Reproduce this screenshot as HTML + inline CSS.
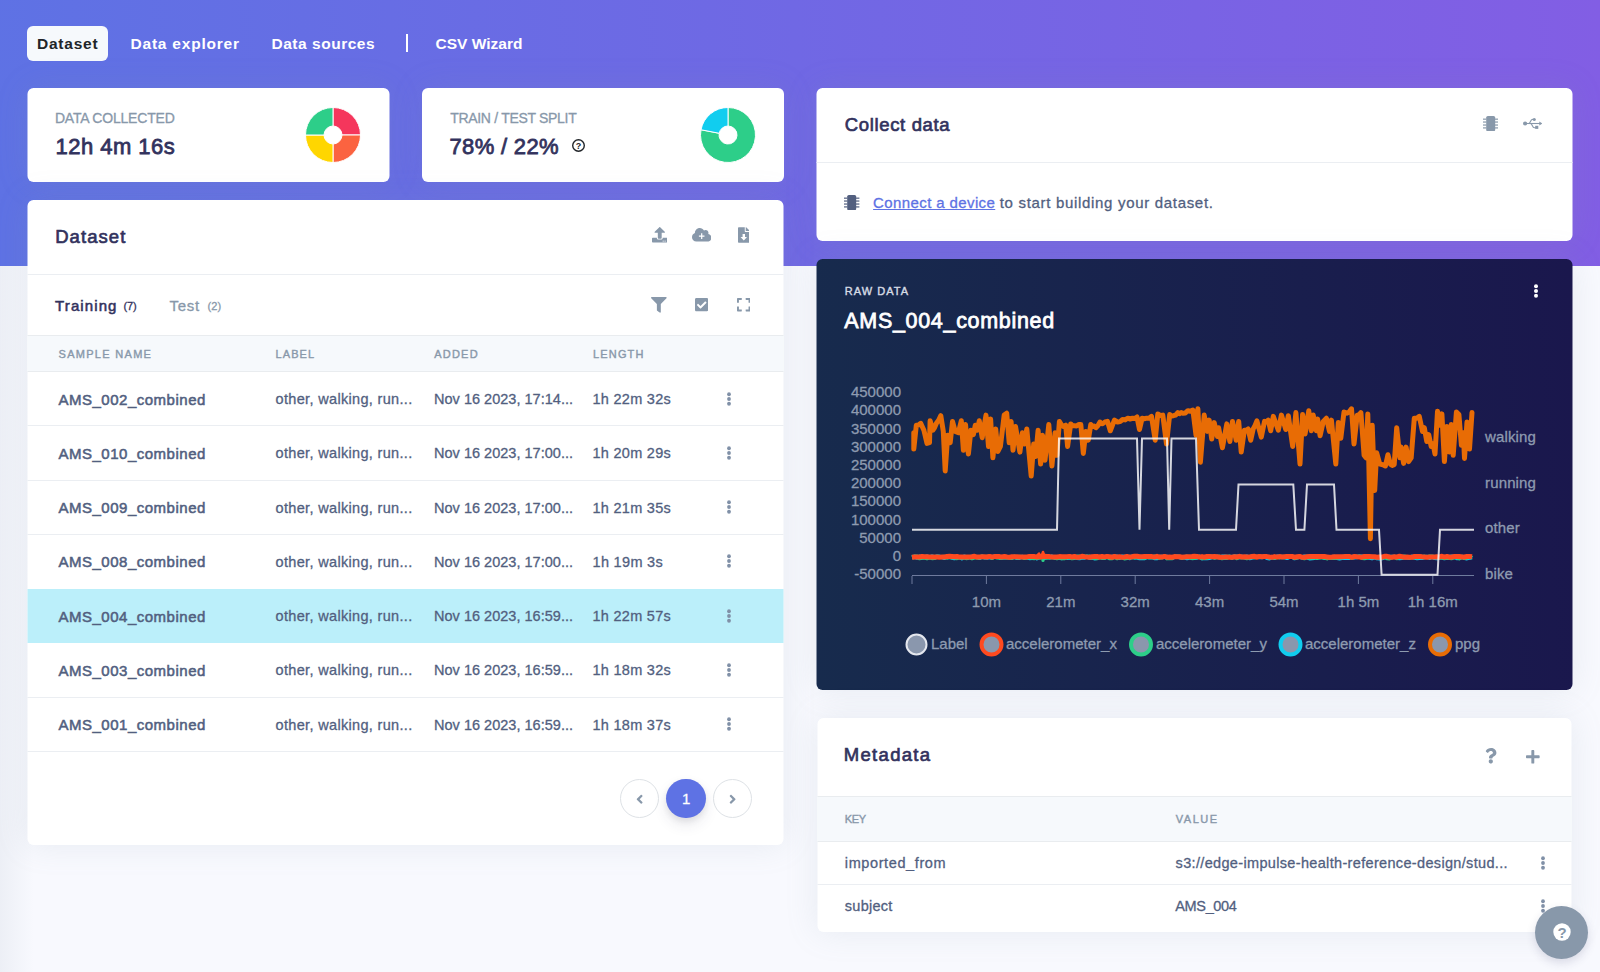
<!DOCTYPE html>
<html lang="en"><head><meta charset="utf-8"><title>Data acquisition</title><style>
html,body{margin:0;padding:0}
body{width:1600px;height:972px;overflow:hidden;background:#f8f9fe;font-family:"Liberation Sans", sans-serif;position:relative}
.a{position:absolute;display:block}
.t{position:absolute;white-space:nowrap}
.card{position:absolute;background:#fff;border-radius:6px;box-shadow:0 0 32px 0 rgba(136,152,170,.15)}
.hl{position:absolute;height:1px;background:#ebeef2}
.hx{transform:translateX(.5px)}
.ax{font-family:"Liberation Sans", sans-serif;font-size:15px;fill:#8e9bb0;stroke:#8e9bb0;stroke-width:.3px}
.pg{position:absolute;width:37px;height:37px;border-radius:50%;border:1px solid #dee2e6;background:#fff}
</style></head><body>
<div class="a" style="left:0;top:0;width:1600px;height:266px;background:linear-gradient(87deg,#5e72e4 0,#825ee4 100%)"></div>
<div class="a" style="left:0;top:266px;width:34px;height:706px;background:linear-gradient(90deg,rgba(136,152,170,.10),rgba(136,152,170,0))"></div>
<div class="a" style="left:27px;top:26px;width:81px;height:34.500px;border-radius:6px;background:#f6f9fc"></div>
<div class="a" style="left:406px;top:34px;width:1.500px;height:18px;background:#fff"></div>
<div class="card hx" style="left:27px;top:88px;width:361.500px;height:94px"></div>
<div class="card" style="left:422px;top:88px;width:361.500px;height:94px"></div>
<svg class="a" style="left:304px;top:106px" width="58" height="58" viewBox="-29 -29 58 58"><path d="M0.00 -27.50A27.5 27.5 0 0 1 27.50 0.00L9.00 0.00A9 9 0 0 0 0.00 -9.00Z" fill="#f5365c" stroke="#fff" stroke-width="1"/><path d="M27.50 0.00A27.5 27.5 0 0 1 0.00 27.50L0.00 9.00A9 9 0 0 0 9.00 0.00Z" fill="#fb6340" stroke="#fff" stroke-width="1"/><path d="M0.00 27.50A27.5 27.5 0 0 1 -27.50 0.00L-9.00 0.00A9 9 0 0 0 0.00 9.00Z" fill="#ffd600" stroke="#fff" stroke-width="1"/><path d="M-27.50 0.00A27.5 27.5 0 0 1 -0.00 -27.50L-0.00 -9.00A9 9 0 0 0 -9.00 0.00Z" fill="#2dce89" stroke="#fff" stroke-width="1"/></svg>
<svg class="a" style="left:698.5px;top:106px" width="58" height="58" viewBox="-29 -29 58 58"><path d="M0.00 -27.50A27.5 27.5 0 1 1 -26.99 -5.25L-8.83 -1.72A9 9 0 1 0 0.00 -9.00Z" fill="#2dce89" stroke="#fff" stroke-width="1"/><path d="M-26.99 -5.25A27.5 27.5 0 0 1 -0.00 -27.50L-0.00 -9.00A9 9 0 0 0 -8.83 -1.72Z" fill="#11cdef" stroke="#fff" stroke-width="1"/></svg>
<svg class="a" style="left:570.5px;top:137.7px" width="15.0" height="15.0" viewBox="-7.5 -7.5 15.0 15.0"><circle r="5.8" fill="none" stroke="#212529" stroke-width="1.400"/><text x="0" y="3.200" text-anchor="middle" font-family='"Liberation Sans", sans-serif' font-weight="700" font-size="9" fill="#212529">?</text></svg>
<div class="card hx" style="left:27px;top:200px;width:756px;height:645px"></div>
<div class="hl hx" style="left:27px;top:274px;width:756px"></div>
<div class="a hx" style="left:27px;top:335px;width:756px;height:37px;background:#f6f9fc;border-top:1px solid #e9ecef;border-bottom:1px solid #e9ecef;box-sizing:border-box"></div>
<div class="a hx" style="left:27px;top:589px;width:756px;height:54px;background:#bbeffa"></div>
<div class="hl hx" style="left:27px;top:425.25px;width:756px"></div>
<div class="hl hx" style="left:27px;top:479.5px;width:756px"></div>
<div class="hl hx" style="left:27px;top:533.75px;width:756px"></div>
<div class="hl hx" style="left:27px;top:696.5px;width:756px"></div>
<div class="hl hx" style="left:27px;top:750.75px;width:756px"></div>
<svg class="a" style="left:651.55px;top:227.35px" width="15.5" height="15.5" viewBox="0 0 512 512"><path fill="#8898aa" d="M296 384h-80c-13.3 0-24-10.700-24-24V192h-87.700c-17.800 0-26.700-21.500-14.100-34.100L242.300 5.700c7.500-7.500 19.800-7.500 27.300 0l152.200 152.200c12.600 12.600 3.700 34.100-14.100 34.100H320v168c0 13.300-10.700 24-24 24zm216-8v112c0 13.300-10.700 24-24 24H24c-13.300 0-24-10.700-24-24V376c0-13.300 10.700-24 24-24h136v8c0 30.900 25.100 56 56 56h80c30.900 0 56-25.100 56-56v-8h136c13.300 0 24 10.700 24 24zm-124 88c0-11-9-20-20-20s-20 9-20 20 9 20 20 20 20-9 20-20zm64 0c0-11-9-20-20-20s-20 9-20 20 9 20 20 20 20-9 20-20z"/></svg>
<svg class="a" style="left:691.6999999999999px;top:228.29999999999998px" width="19.4" height="13.6" viewBox="0 0 640 448"><path fill="#8898aa" d="M537.6 194.600c4.100-10.700 6.400-22.400 6.400-34.600 0-53-43-96-96-96-19.700 0-38.100 6-53.300 16.200C367 32.200 315.300 0 256 0 167.600 0 96 71.600 96 160c0 2.700.1 5.400.2 8.100C40.200 187.800 0 241.200 0 304c0 79.500 64.500 144 144 144h368c70.700 0 128-57.300 128-128 0-61.900-44-113.600-102.400-125.400z"/><path fill="#fff" d="M300 176h40v72h72v40h-72v72h-40v-72h-72v-40h72z"/></svg>
<svg class="a" style="left:737.6px;top:227.0px" width="11.6" height="15.9" viewBox="0 0 384 512"><path fill="#8898aa" d="M224 136V0H24C10.700 0 0 10.700 0 24v464c0 13.300 10.700 24 24 24h336c13.300 0 24-10.700 24-24V160H248c-13.200 0-24-10.800-24-24zm160-14.100v6.100H256V0h6.100c6.400 0 12.500 2.500 17 7l97.900 98c4.500 4.500 7 10.600 7 16.900z"/><path fill="#fff" d="M152 226h80v100h68l-108 116-108-116h68z"/></svg>
<svg class="a" style="left:651.4499999999999px;top:297.04999999999995px" width="15.7" height="15.7" viewBox="0 0 512 512"><path fill="#8898aa" d="M487.976 0H24.028C2.710 0-8.047 25.866 7.058 40.971L192 225.941V432c0 7.831 3.821 15.170 10.237 19.662l80 55.980C298.020 518.690 320 507.493 320 487.980V225.941l184.947-184.970C520.021 25.896 509.338 0 487.976 0z"/></svg>
<svg class="a" style="left:694.6049999999999px;top:297.25px" width="13.39" height="15.3" viewBox="0 0 448 512"><path fill="#8898aa" d="M400 480H48c-26.510 0-48-21.490-48-48V80c0-26.510 21.490-48 48-48h352c26.510 0 48 21.490 48 48v352c0 26.510-21.490 48-48 48zm-204.686-98.059l184-184c6.248-6.248 6.248-16.379 0-22.627l-22.627-22.627c-6.248-6.248-16.379-6.249-22.628 0L184 302.745l-70.059-70.059c-6.248-6.248-16.379-6.248-22.628 0l-22.627 22.627c-6.248 6.248-6.248 16.379 0 22.627l104 104c6.249 6.250 16.379 6.250 22.628.001z"/></svg>
<svg class="a" style="left:736.5649999999999px;top:297.2px" width="13.47" height="15.4" viewBox="0 0 448 512"><path fill="#8898aa" d="M0 180V56c0-13.300 10.700-24 24-24h124c6.600 0 12 5.400 12 12v40c0 6.600-5.400 12-12 12H64v84c0 6.600-5.400 12-12 12H12c-6.600 0-12-5.400-12-12zM288 44v40c0 6.600 5.400 12 12 12h84v84c0 6.600 5.400 12 12 12h40c6.600 0 12-5.400 12-12V56c0-13.300-10.700-24-24-24H300c-6.600 0-12 5.400-12 12zm148 276h-40c-6.600 0-12 5.400-12 12v84h-84c-6.600 0-12 5.400-12 12v40c0 6.600 5.400 12 12 12h124c13.300 0 24-10.700 24-24V332c0-6.600-5.400-12-12-12zM160 468v-40c0-6.600-5.400-12-12-12H64v-84c0-6.600-5.400-12-12-12H12c-6.600 0-12 5.400-12 12v124c0 13.300 10.700 24 24 24h124c6.600 0 12-5.400 12-12z"/></svg>
<svg class="a" style="left:726.4px;top:389.7px" width="6" height="18" viewBox="-3 -9 6 18"><circle cx="0" cy="-4.75" r="1.9" fill="#8090a7"/><circle cx="0" cy="0" r="1.9" fill="#8090a7"/><circle cx="0" cy="4.75" r="1.9" fill="#8090a7"/></svg>
<svg class="a" style="left:726.4px;top:443.95px" width="6" height="18" viewBox="-3 -9 6 18"><circle cx="0" cy="-4.75" r="1.9" fill="#8090a7"/><circle cx="0" cy="0" r="1.9" fill="#8090a7"/><circle cx="0" cy="4.75" r="1.9" fill="#8090a7"/></svg>
<svg class="a" style="left:726.4px;top:498.2px" width="6" height="18" viewBox="-3 -9 6 18"><circle cx="0" cy="-4.75" r="1.9" fill="#8090a7"/><circle cx="0" cy="0" r="1.9" fill="#8090a7"/><circle cx="0" cy="4.75" r="1.9" fill="#8090a7"/></svg>
<svg class="a" style="left:726.4px;top:552.45px" width="6" height="18" viewBox="-3 -9 6 18"><circle cx="0" cy="-4.75" r="1.9" fill="#8090a7"/><circle cx="0" cy="0" r="1.9" fill="#8090a7"/><circle cx="0" cy="4.75" r="1.9" fill="#8090a7"/></svg>
<svg class="a" style="left:726.4px;top:606.7px" width="6" height="18" viewBox="-3 -9 6 18"><circle cx="0" cy="-4.75" r="1.9" fill="#8090a7"/><circle cx="0" cy="0" r="1.9" fill="#8090a7"/><circle cx="0" cy="4.75" r="1.9" fill="#8090a7"/></svg>
<svg class="a" style="left:726.4px;top:660.95px" width="6" height="18" viewBox="-3 -9 6 18"><circle cx="0" cy="-4.75" r="1.9" fill="#8090a7"/><circle cx="0" cy="0" r="1.9" fill="#8090a7"/><circle cx="0" cy="4.75" r="1.9" fill="#8090a7"/></svg>
<svg class="a" style="left:726.4px;top:715.2px" width="6" height="18" viewBox="-3 -9 6 18"><circle cx="0" cy="-4.75" r="1.9" fill="#8090a7"/><circle cx="0" cy="0" r="1.9" fill="#8090a7"/><circle cx="0" cy="4.75" r="1.9" fill="#8090a7"/></svg>
<div class="pg" style="left:620px;top:779px"></div>
<div class="pg" style="left:713px;top:779px"></div>
<div class="a" style="left:666px;top:778.500px;width:39.500px;height:39.500px;border-radius:50%;background:#5e72e4;box-shadow:0 7px 14px rgba(50,50,93,.1),0 3px 6px rgba(0,0,0,.08)"></div>
<svg class="a" style="left:635.775px;top:791.65px" width="7.25" height="14.5" viewBox="0 0 256 512"><path fill="#8898aa" d="M31.700 239l136-136c9.400-9.400 24.600-9.400 33.900 0l22.600 22.600c9.400 9.400 9.400 24.600 0 33.900L127.900 256l96.400 96.400c9.400 9.400 9.400 24.600 0 33.900L201.700 409c-9.400 9.400-24.600 9.400-33.900 0l-136-136c-9.500-9.400-9.500-24.600-.1-34z"/></svg>
<svg class="a" style="left:728.875px;top:791.65px" width="7.25" height="14.5" viewBox="0 0 256 512"><path fill="#8898aa" d="M224.300 273l-136 136c-9.400 9.400-24.600 9.400-33.900 0l-22.600-22.600c-9.400-9.400-9.400-24.600 0-33.900l96.400-96.400-96.400-96.400c-9.400-9.400-9.400-24.600 0-33.900L54.300 103c9.400-9.400 24.600-9.400 33.900 0l136 136c9.500 9.400 9.500 24.600.1 34z"/></svg>
<div class="card hx" style="left:816px;top:88px;width:756px;height:152.500px"></div>
<div class="hl hx" style="left:816px;top:162px;width:756px"></div>
<svg class="a" style="left:1482.8px;top:115.75px" width="15.4" height="15.3" viewBox="0 0 15.4 15.3"><rect x="3.2" y="0" width="9" height="15.3" rx="1.6" fill="#8898aa"/><rect x="0" y="2.45" width="3.4" height="1.5" fill="#8898aa" opacity=".8"/><rect x="12" y="2.45" width="3.4" height="1.5" fill="#8898aa" opacity=".8"/><rect x="0" y="5.30" width="3.4" height="1.5" fill="#8898aa" opacity=".8"/><rect x="12" y="5.30" width="3.4" height="1.5" fill="#8898aa" opacity=".8"/><rect x="0" y="8.30" width="3.4" height="1.5" fill="#8898aa" opacity=".8"/><rect x="12" y="8.30" width="3.4" height="1.5" fill="#8898aa" opacity=".8"/><rect x="0" y="11.15" width="3.4" height="1.5" fill="#8898aa" opacity=".8"/><rect x="12" y="11.15" width="3.4" height="1.5" fill="#8898aa" opacity=".8"/></svg>
<svg class="a" style="left:1522.75px;top:117.9px" width="19.5" height="11" viewBox="0 0 19.5 11"><g fill="none" stroke="#8898aa" stroke-width="1.1"><path d="M2 5.5H17"/><path d="M5.8 5.5C7.5 5.500 7.200 1.400 9.500 1.400H11"/><path d="M7.5 5.500C9.500 5.500 9 9.700 11.500 9.700H13"/></g><circle cx="2.100" cy="5.500" r="2.100" fill="#8898aa"/><circle cx="11.300" cy="1.500" r="1.500" fill="#8898aa"/><rect x="12.200" y="8.100" width="3.100" height="3.100" fill="#8898aa" transform="translate(0,-0.3)"/><path d="M16.300 3.600l3.200 1.900-3.200 1.900z" fill="#8898aa"/></svg>
<svg class="a" style="left:844.3px;top:194.65px" width="15.4" height="15.3" viewBox="0 0 15.4 15.3"><rect x="3.2" y="0" width="9" height="15.3" rx="1.6" fill="#525f7f"/><rect x="0" y="2.45" width="3.4" height="1.5" fill="#525f7f" opacity=".8"/><rect x="12" y="2.45" width="3.4" height="1.5" fill="#525f7f" opacity=".8"/><rect x="0" y="5.30" width="3.4" height="1.5" fill="#525f7f" opacity=".8"/><rect x="12" y="5.30" width="3.4" height="1.5" fill="#525f7f" opacity=".8"/><rect x="0" y="8.30" width="3.4" height="1.5" fill="#525f7f" opacity=".8"/><rect x="12" y="8.30" width="3.4" height="1.5" fill="#525f7f" opacity=".8"/><rect x="0" y="11.15" width="3.4" height="1.5" fill="#525f7f" opacity=".8"/><rect x="12" y="11.15" width="3.4" height="1.5" fill="#525f7f" opacity=".8"/></svg>
<div class="card hx" style="left:816px;top:258.500px;width:756px;height:431.500px;background:linear-gradient(87deg,#172b4d 0,#1a174d 100%)"></div>
<svg class="a" style="left:1533px;top:281.65px" width="6" height="18" viewBox="-3 -9 6 18"><circle cx="0" cy="-4.65" r="2" fill="#fff"/><circle cx="0" cy="0" r="2" fill="#fff"/><circle cx="0" cy="4.65" r="2" fill="#fff"/></svg>
<svg class="a" style="left:816px;top:370px" width="757" height="300" viewBox="816 370 757 300"><text x="901" y="397.2" text-anchor="end" class="ax">450000</text><text x="901" y="415.4" text-anchor="end" class="ax">400000</text><text x="901" y="433.6" text-anchor="end" class="ax">350000</text><text x="901" y="451.8" text-anchor="end" class="ax">300000</text><text x="901" y="470.0" text-anchor="end" class="ax">250000</text><text x="901" y="488.2" text-anchor="end" class="ax">200000</text><text x="901" y="506.4" text-anchor="end" class="ax">150000</text><text x="901" y="524.6" text-anchor="end" class="ax">100000</text><text x="901" y="542.8" text-anchor="end" class="ax">50000</text><text x="901" y="561.0" text-anchor="end" class="ax">0</text><text x="901" y="579.2" text-anchor="end" class="ax">-50000</text><path d="M912 575.500H1474" stroke="#6f7b9e" stroke-width="1"/><path d="M912.0 576V584" stroke="#6f7b9e" stroke-width="1"/><path d="M986.4 576V584" stroke="#6f7b9e" stroke-width="1"/><path d="M1060.8 576V584" stroke="#6f7b9e" stroke-width="1"/><path d="M1135.2 576V584" stroke="#6f7b9e" stroke-width="1"/><path d="M1209.6 576V584" stroke="#6f7b9e" stroke-width="1"/><path d="M1284.0 576V584" stroke="#6f7b9e" stroke-width="1"/><path d="M1358.4 576V584" stroke="#6f7b9e" stroke-width="1"/><path d="M1432.8 576V584" stroke="#6f7b9e" stroke-width="1"/><text x="986.4" y="607" text-anchor="middle" class="ax">10m</text><text x="1060.8" y="607" text-anchor="middle" class="ax">21m</text><text x="1135.2" y="607" text-anchor="middle" class="ax">32m</text><text x="1209.6" y="607" text-anchor="middle" class="ax">43m</text><text x="1284.0" y="607" text-anchor="middle" class="ax">54m</text><text x="1358.4" y="607" text-anchor="middle" class="ax">1h 5m</text><text x="1432.8" y="607" text-anchor="middle" class="ax">1h 16m</text><text x="1485" y="442" class="ax" style="letter-spacing:.15px">walking</text><text x="1485" y="488" class="ax" style="letter-spacing:.15px">running</text><text x="1485" y="533" class="ax" style="letter-spacing:.15px">other</text><text x="1485" y="579" class="ax" style="letter-spacing:.15px">bike</text><polyline points="913.8,432.7 913.8,449.0 916.3,425.2 918.5,424.9 920.7,423.3 923.9,430.2 927.0,443.4 929.5,442.7 930.1,420.8 932.9,430.2 934.6,427.6 936.4,423.3 938.6,420.3 940.8,415.7 943.3,431.4 945.2,471.0 947.7,435.2 950.2,442.7 952.5,421.4 955.2,431.4 958.4,432.7 961.3,420.8 963.4,450.3 965.5,424.5 968.4,454.0 970.9,430.2 973.4,434.6 975.3,425.2 977.2,430.2 979.3,420.8 982.2,437.7 986.0,415.1 988.5,446.5 990.6,418.9 992.9,457.8 995.7,428.9 997.9,451.5 1000.4,446.5 1004.2,415.1 1006.7,413.2 1009.2,442.7 1011.1,421.4 1013.0,450.3 1015.5,426.4 1019.9,452.1 1022.4,432.7 1024.3,444.0 1026.8,428.9 1031.2,476.0 1033.7,444.0 1035.6,456.5 1038.1,430.2 1040.6,464.1 1042.5,435.2 1045.0,460.3 1048.8,424.5 1051.9,466.0 1055.1,432.7 1056.9,455.3 1059.4,421.4 1061.3,424.8 1063.2,426.4 1065.7,425.2 1067.6,446.5 1070.7,423.9 1072.6,425.7 1074.5,425.8 1076.6,426.0 1078.7,424.5 1080.8,424.5 1083.3,453.4 1085.8,431.4 1088.3,440.2 1090.8,424.5 1092.5,426.6 1094.2,426.1 1095.9,427.7 1098.0,425.5 1100.0,422.0 1100.0,423.3 1102.5,423.7 1105.0,422.0 1107.5,421.4 1110.3,430.8 1114.4,420.1 1117.6,422.0 1120.1,421.6 1122.6,419.5 1125.1,419.9 1127.6,418.2 1130.1,419.0 1132.6,418.2 1134.8,418.5 1137.0,417.0 1139.5,429.5 1142.1,418.2 1144.3,418.8 1146.5,418.2 1149.0,418.2 1151.5,416.4 1155.2,440.2 1157.8,413.9 1160.3,415.5 1162.8,415.1 1166.5,444.0 1169.7,414.5 1171.6,415.9 1173.4,415.7 1175.6,415.1 1177.8,412.6 1179.5,413.7 1181.2,412.5 1182.9,413.2 1185.4,412.9 1187.9,410.7 1190.4,411.3 1192.9,410.1 1196.0,435.2 1197.9,408.8 1200.4,462.2 1204.2,415.1 1207.3,431.4 1209.2,420.1 1211.7,439.0 1214.2,422.6 1217.4,436.5 1218.6,427.7 1222.4,447.8 1226.8,423.9 1229.9,441.5 1232.5,421.4 1236.2,440.2 1238.7,421.4 1241.2,452.1 1244.4,430.2 1246.2,430.3 1248.1,428.9 1250.7,440.2 1253.2,428.9 1255.1,425.4 1256.9,420.8 1261.3,437.1 1264.5,421.4 1266.3,421.8 1268.2,420.1 1270.7,430.8 1273.3,416.4 1278.3,430.2 1281.4,415.1 1285.8,429.5 1288.3,415.7 1292.7,446.5 1295.9,412.6 1300.0,464.1 1302.6,414.5 1305.1,433.9 1308.8,410.7 1311.3,430.8 1313.2,415.1 1316.4,430.8 1317.6,418.9 1320.1,435.8 1323.3,421.4 1326.4,418.2 1329.5,431.4 1331.4,420.1 1335.8,464.1 1338.3,422.6 1340.8,438.3 1344.0,412.0 1347.1,413.2 1349.3,411.8 1351.5,408.8 1354.0,444.0 1357.2,415.1 1359.1,414.8 1360.9,412.6 1364.1,455.3 1366.0,457.8 1367.8,413.9 1370.4,538.8 1372.2,425.2 1374.7,490.4 1376.6,452.8 1379.8,464.1 1382.9,464.7 1385.4,466.0 1387.9,454.7 1390.4,464.1 1392.3,465.4 1394.2,464.7 1396.7,427.7 1399.9,457.8 1401.1,447.1 1403.6,463.4 1406.1,447.1 1408.6,461.6 1411.2,457.8 1414.3,418.2 1416.8,418.2 1419.3,416.4 1422.5,431.4 1424.3,427.7 1426.8,441.5 1428.7,434.6 1431.2,446.5 1433.1,444.0 1435.0,454.0 1437.5,411.3 1440.0,425.2 1441.9,413.9 1444.4,461.6 1446.9,426.4 1449.4,452.1 1451.3,424.5 1453.2,455.3 1456.4,412.0 1458.9,414.5 1461.4,445.2 1463.3,432.7 1464.5,458.4 1467.0,422.0 1469.5,449.0 1472.0,412.6" fill="none" stroke="#e86c05" stroke-width="5" stroke-linejoin="round" stroke-linecap="round"/><polyline points="912.0,557.1 914.5,556.8 917.0,557.7 919.5,556.6 922.0,557.5 924.5,557.2 927.0,556.6 929.5,557.4 932.0,556.6 934.5,557.3 937.0,556.6 939.5,556.7 942.0,557.3 944.5,558.0 947.0,556.7 949.5,556.9 952.0,557.6 954.5,558.2 957.0,557.5 959.5,557.2 962.0,558.3 964.5,556.6 967.0,558.0 969.5,557.0 972.0,556.8 974.5,556.7 977.0,557.1 979.5,558.0 982.0,556.8 984.5,557.5 987.0,557.7 989.5,557.2 992.0,557.5 994.5,556.6 997.0,556.6 999.5,556.9 1002.0,557.7 1004.5,557.3 1007.0,557.1 1009.5,557.6 1012.0,557.3 1014.5,557.0 1017.0,557.9 1019.5,557.8 1022.0,556.9 1024.5,557.5 1027.0,557.4 1029.5,558.1 1032.0,557.8 1034.5,557.0 1037.0,558.3 1039.5,556.7 1042.0,557.3 1044.5,557.9 1047.0,556.8 1049.5,557.4 1052.0,556.6 1054.5,557.7 1057.0,557.9 1059.5,557.5 1062.0,558.1 1064.5,557.1 1067.0,557.8 1069.5,557.6 1072.0,557.5 1074.5,557.3 1077.0,558.0 1079.5,558.2 1082.0,557.4 1084.5,557.7 1087.0,556.6 1089.5,557.8 1092.0,557.7 1094.5,558.3 1097.0,558.0 1099.5,557.0 1102.0,557.2 1104.5,557.7 1107.0,556.5 1109.5,557.3 1112.0,556.8 1114.5,556.7 1117.0,556.6 1119.5,557.9 1122.0,556.7 1124.5,556.9 1127.0,557.2 1129.5,558.1 1132.0,556.6 1134.5,557.3 1137.0,557.5 1139.5,558.1 1142.0,558.0 1144.5,558.1 1147.0,557.0 1149.5,557.2 1152.0,557.1 1154.5,558.1 1157.0,558.2 1159.5,556.8 1162.0,556.8 1164.5,556.9 1167.0,556.9 1169.5,557.4 1172.0,557.6 1174.5,557.0 1177.0,556.5 1179.5,557.3 1182.0,557.2 1184.5,557.5 1187.0,558.2 1189.5,557.7 1192.0,557.4 1194.5,557.6 1197.0,557.7 1199.5,556.6 1202.0,558.1 1204.5,557.9 1207.0,558.1 1209.5,557.9 1212.0,557.2 1214.5,557.2 1217.0,556.7 1219.5,557.6 1222.0,556.6 1224.5,556.6 1227.0,556.9 1229.5,556.8 1232.0,557.1 1234.5,556.6 1237.0,556.5 1239.5,556.8 1242.0,556.7 1244.5,557.2 1247.0,556.5 1249.5,558.1 1252.0,557.6 1254.5,556.8 1257.0,557.0 1259.5,557.1 1262.0,557.2 1264.5,556.7 1267.0,558.0 1269.5,558.3 1272.0,557.3 1274.5,557.4 1277.0,556.7 1279.5,556.7 1282.0,557.1 1284.5,557.0 1287.0,558.0 1289.5,556.8 1292.0,556.5 1294.5,558.2 1297.0,557.5 1299.5,556.8 1302.0,557.5 1304.5,556.5 1307.0,557.5 1309.5,558.3 1312.0,558.1 1314.5,557.8 1317.0,557.0 1319.5,557.2 1322.0,556.8 1324.5,557.9 1327.0,557.5 1329.5,557.9 1332.0,557.1 1334.5,556.9 1337.0,558.0 1339.5,558.3 1342.0,558.0 1344.5,558.0 1347.0,558.0 1349.5,557.8 1352.0,556.9 1354.5,557.4 1357.0,557.1 1359.5,556.6 1362.0,556.6 1364.5,557.0 1367.0,557.0 1369.5,557.7 1372.0,558.2 1374.5,557.3 1377.0,558.2 1379.5,558.3 1382.0,558.2 1384.5,557.2 1387.0,556.9 1389.5,556.9 1392.0,556.9 1394.5,556.9 1397.0,557.6 1399.5,558.1 1402.0,558.0 1404.5,557.4 1407.0,557.7 1409.5,557.9 1412.0,556.7 1414.5,557.7 1417.0,558.1 1419.5,557.9 1422.0,557.9 1424.5,557.4 1427.0,556.8 1429.5,557.9 1432.0,557.1 1434.5,557.9 1437.0,558.2 1439.5,557.2 1442.0,557.2 1444.5,558.2 1447.0,557.8 1449.5,556.8 1452.0,556.7 1454.5,556.8 1457.0,558.1 1459.5,558.0 1462.0,556.8 1464.5,558.0 1467.0,558.3 1469.5,557.7 1472.0,557.1" fill="none" stroke="#11cdef" stroke-width="4.200" stroke-linejoin="round"/><polyline points="912.0,557.5 914.5,556.7 917.0,556.5 919.5,558.2 922.0,557.7 924.5,557.4 927.0,558.2 929.5,557.3 932.0,558.1 934.5,558.0 937.0,556.9 939.5,557.0 942.0,557.0 944.5,556.9 947.0,557.6 949.5,557.0 952.0,557.3 954.5,556.7 957.0,558.1 959.5,557.1 962.0,557.3 964.5,557.6 967.0,558.1 969.5,557.3 972.0,558.2 974.5,557.4 977.0,557.5 979.5,557.4 982.0,556.5 984.5,557.3 987.0,556.8 989.5,556.5 992.0,557.9 994.5,556.8 997.0,557.4 999.5,557.8 1002.0,557.5 1004.5,557.1 1007.0,557.4 1009.5,557.5 1012.0,557.9 1014.5,556.7 1017.0,557.5 1019.5,556.9 1022.0,557.0 1024.5,557.9 1027.0,557.4 1029.5,557.5 1032.0,557.9 1034.5,558.1 1037.0,557.3 1039.5,557.6 1042.0,557.4 1044.5,557.4 1047.0,557.7 1049.5,557.3 1052.0,557.5 1054.5,557.4 1057.0,558.2 1059.5,557.8 1062.0,558.1 1064.5,558.2 1067.0,557.0 1069.5,557.5 1072.0,558.2 1074.5,558.0 1077.0,556.7 1079.5,556.7 1082.0,557.3 1084.5,556.6 1087.0,556.9 1089.5,556.6 1092.0,557.7 1094.5,557.9 1097.0,558.1 1099.5,556.8 1102.0,557.8 1104.5,557.7 1107.0,556.8 1109.5,558.1 1112.0,558.2 1114.5,556.9 1117.0,558.2 1119.5,557.2 1122.0,557.4 1124.5,558.3 1127.0,558.0 1129.5,556.8 1132.0,557.3 1134.5,557.4 1137.0,557.1 1139.5,556.9 1142.0,557.1 1144.5,557.8 1147.0,556.5 1149.5,557.5 1152.0,557.3 1154.5,556.5 1157.0,557.1 1159.5,557.6 1162.0,557.4 1164.5,556.6 1167.0,558.3 1169.5,557.9 1172.0,558.2 1174.5,556.7 1177.0,557.0 1179.5,556.6 1182.0,557.9 1184.5,557.0 1187.0,556.7 1189.5,557.3 1192.0,558.1 1194.5,558.0 1197.0,557.0 1199.5,556.8 1202.0,558.2 1204.5,557.5 1207.0,557.8 1209.5,556.7 1212.0,556.6 1214.5,557.7 1217.0,557.3 1219.5,556.6 1222.0,558.2 1224.5,557.6 1227.0,557.9 1229.5,556.7 1232.0,558.0 1234.5,556.6 1237.0,558.1 1239.5,557.3 1242.0,557.1 1244.5,557.5 1247.0,558.2 1249.5,557.0 1252.0,556.7 1254.5,557.4 1257.0,556.9 1259.5,556.7 1262.0,556.8 1264.5,556.6 1267.0,556.9 1269.5,557.1 1272.0,557.0 1274.5,557.9 1277.0,557.0 1279.5,557.4 1282.0,556.8 1284.5,557.1 1287.0,556.5 1289.5,557.0 1292.0,556.5 1294.5,557.8 1297.0,557.5 1299.5,556.8 1302.0,557.4 1304.5,558.2 1307.0,556.7 1309.5,558.0 1312.0,557.3 1314.5,557.4 1317.0,558.0 1319.5,557.2 1322.0,557.4 1324.5,557.7 1327.0,558.3 1329.5,557.1 1332.0,558.0 1334.5,557.8 1337.0,557.6 1339.5,557.2 1342.0,557.1 1344.5,556.6 1347.0,556.7 1349.5,556.6 1352.0,557.8 1354.5,557.0 1357.0,556.8 1359.5,556.7 1362.0,558.0 1364.5,558.1 1367.0,557.7 1369.5,557.0 1372.0,556.9 1374.5,557.0 1377.0,557.3 1379.5,556.8 1382.0,557.3 1384.5,557.0 1387.0,558.2 1389.5,558.3 1392.0,557.5 1394.5,556.9 1397.0,558.2 1399.5,557.1 1402.0,557.1 1404.5,556.5 1407.0,557.2 1409.5,557.4 1412.0,557.4 1414.5,556.9 1417.0,557.4 1419.5,556.5 1422.0,557.0 1424.5,556.7 1427.0,557.2 1429.5,556.6 1432.0,556.5 1434.5,557.0 1437.0,556.9 1439.5,557.6 1442.0,557.5 1444.5,557.9 1447.0,557.7 1449.5,557.8 1452.0,558.1 1454.5,557.2 1457.0,557.1 1459.5,558.3 1462.0,556.8 1464.5,557.8 1467.0,557.7 1469.5,556.6 1472.0,558.0" fill="none" stroke="#2dce89" stroke-width="4.200" stroke-linejoin="round"/><polyline points="912.0,557.2 914.5,556.9 917.0,557.0 919.5,557.1 922.0,556.4 924.5,556.8 927.0,556.8 929.5,557.1 932.0,557.1 934.5,557.1 937.0,556.9 939.5,557.2 942.0,557.0 944.5,557.0 947.0,556.5 949.5,556.3 952.0,556.4 954.5,556.7 957.0,556.4 959.5,557.1 962.0,556.9 964.5,556.9 967.0,556.9 969.5,557.0 972.0,556.8 974.5,556.3 977.0,557.1 979.5,557.0 982.0,556.8 984.5,556.8 987.0,557.0 989.5,556.4 992.0,557.0 994.5,556.6 997.0,556.4 999.5,556.6 1002.0,557.0 1004.5,556.5 1007.0,557.0 1009.5,557.3 1012.0,556.8 1014.5,556.7 1017.0,556.8 1019.5,557.0 1022.0,557.1 1024.5,556.9 1027.0,556.9 1029.5,556.4 1032.0,556.4 1034.5,556.6 1037.0,557.0 1039.5,556.6 1042.0,556.9 1044.5,556.3 1047.0,556.4 1049.5,556.6 1052.0,557.0 1054.5,557.0 1057.0,557.0 1059.5,556.6 1062.0,556.8 1064.5,556.8 1067.0,556.8 1069.5,556.4 1072.0,557.2 1074.5,556.5 1077.0,557.3 1079.5,557.2 1082.0,556.3 1084.5,556.8 1087.0,557.1 1089.5,557.3 1092.0,556.7 1094.5,556.6 1097.0,556.5 1099.5,557.2 1102.0,556.5 1104.5,556.9 1107.0,556.4 1109.5,556.8 1112.0,557.3 1114.5,556.4 1117.0,557.1 1119.5,556.8 1122.0,557.2 1124.5,557.0 1127.0,556.5 1129.5,557.2 1132.0,556.8 1134.5,556.3 1137.0,556.3 1139.5,556.8 1142.0,556.8 1144.5,556.6 1147.0,556.4 1149.5,556.6 1152.0,556.6 1154.5,557.1 1157.0,556.3 1159.5,557.1 1162.0,557.1 1164.5,556.4 1167.0,557.2 1169.5,557.0 1172.0,557.2 1174.5,556.6 1177.0,556.7 1179.5,556.7 1182.0,557.3 1184.5,556.9 1187.0,556.7 1189.5,556.7 1192.0,556.6 1194.5,556.3 1197.0,556.4 1199.5,557.1 1202.0,556.6 1204.5,557.2 1207.0,556.5 1209.5,556.6 1212.0,556.8 1214.5,556.5 1217.0,556.7 1219.5,557.3 1222.0,557.2 1224.5,557.1 1227.0,556.9 1229.5,557.2 1232.0,557.2 1234.5,556.8 1237.0,557.0 1239.5,556.3 1242.0,557.0 1244.5,556.8 1247.0,557.1 1249.5,556.9 1252.0,556.6 1254.5,556.3 1257.0,557.2 1259.5,556.4 1262.0,556.8 1264.5,556.6 1267.0,556.6 1269.5,557.0 1272.0,557.3 1274.5,556.6 1277.0,557.0 1279.5,556.6 1282.0,556.9 1284.5,556.7 1287.0,556.5 1289.5,556.5 1292.0,556.5 1294.5,557.2 1297.0,556.8 1299.5,556.5 1302.0,557.2 1304.5,557.3 1307.0,556.7 1309.5,556.4 1312.0,556.5 1314.5,556.4 1317.0,556.6 1319.5,556.4 1322.0,556.5 1324.5,556.6 1327.0,556.9 1329.5,557.2 1332.0,557.0 1334.5,556.7 1337.0,556.7 1339.5,556.8 1342.0,556.7 1344.5,556.6 1347.0,556.4 1349.5,556.6 1352.0,557.3 1354.5,556.4 1357.0,556.8 1359.5,556.9 1362.0,557.2 1364.5,556.5 1367.0,556.6 1369.5,556.5 1372.0,556.7 1374.5,556.7 1377.0,557.3 1379.5,557.1 1382.0,557.2 1384.5,556.3 1387.0,556.3 1389.5,557.0 1392.0,557.2 1394.5,556.8 1397.0,556.9 1399.5,556.3 1402.0,556.7 1404.5,557.2 1407.0,557.1 1409.5,557.2 1412.0,557.3 1414.5,556.5 1417.0,556.4 1419.5,556.5 1422.0,556.8 1424.5,557.0 1427.0,557.2 1429.5,557.0 1432.0,556.9 1434.5,557.1 1437.0,556.8 1439.5,556.9 1442.0,556.3 1444.5,557.1 1447.0,556.5 1449.5,557.2 1452.0,556.9 1454.5,556.6 1457.0,556.4 1459.5,556.6 1462.0,556.9 1464.5,557.0 1467.0,556.4 1469.5,556.4 1472.0,556.8" fill="none" stroke="#ff4a1f" stroke-width="5" stroke-linejoin="round"/><path d="M1036 556.800L1039 553.500L1041 558L1043 552L1045 558L1047 556.800" fill="none" stroke="#ff4a1f" stroke-width="2.500" stroke-linejoin="round"/><circle cx="1043" cy="560.500" r="1.600" fill="#2dce89"/><polyline points="912,529.8 1057,529.8 1059,438.4 1137,438.4 1139.5,529.8 1142,438.4 1167,438.4 1169.2,529.8 1171.5,438.4 1196,438.4 1199,529.8 1236,529.8 1238.5,484.4 1293.3,484.4 1296,529.8 1304.4,529.8 1307,484.4 1334,484.4 1336.5,529.8 1379,529.8 1381.6,574.8 1437.5,574.8 1440,529.8 1474,529.8" fill="none" stroke="#fff" stroke-opacity=".82" stroke-width="2" stroke-linejoin="miter"/><circle cx="916.5" cy="644.500" r="10" fill="#8a97ad" stroke="#e4e7ee" stroke-width="2"/><text x="931" y="648.500" class="ax" id="lg_Label">Label</text><circle cx="991.5" cy="644.500" r="10" fill="#8a97ad" stroke="#ff4a1f" stroke-width="4"/><text x="1006" y="648.500" class="ax" id="lg_accelerometer_x">accelerometer_x</text><circle cx="1141" cy="644.500" r="10" fill="#8a97ad" stroke="#2dce89" stroke-width="4"/><text x="1156" y="648.500" class="ax" id="lg_accelerometer_y">accelerometer_y</text><circle cx="1290.5" cy="644.500" r="10" fill="#8a97ad" stroke="#11cdef" stroke-width="4"/><text x="1305" y="648.500" class="ax" id="lg_accelerometer_z">accelerometer_z</text><circle cx="1440" cy="644.500" r="10" fill="#8a97ad" stroke="#e86c05" stroke-width="4"/><text x="1455" y="648.500" class="ax" id="lg_ppg">ppg</text></svg>
<div class="card hx" style="left:817px;top:718px;width:754px;height:214px"></div>
<div class="a hx" style="left:817px;top:795.500px;width:754px;height:46.500px;background:#f6f9fc;border-top:1px solid #e9ecef;border-bottom:1px solid #e9ecef;box-sizing:border-box"></div>
<div class="hl hx" style="left:817px;top:884px;width:754px"></div>
<svg class="a" style="left:1485.19px;top:748.45px" width="11.62" height="15.5" viewBox="0 0 384 512"><path fill="#8898aa" d="M202.021 0C122.202 0 70.503 32.703 29.914 91.026c-7.363 10.580-5.093 25.086 5.178 32.874l43.138 32.709c10.373 7.865 25.132 6.026 33.253-4.148 25.049-31.381 43.630-49.449 82.757-49.449 30.764 0 68.816 19.799 68.816 49.631 0 22.552-18.617 34.134-48.993 51.164-35.423 19.860-82.299 44.576-82.299 106.405V320c0 13.255 10.745 24 24 24h72.471c13.255 0 24-10.745 24-24v-5.773c0-42.860 125.268-44.645 125.268-160.627C377.504 66.256 286.902 0 202.021 0zM192 373.459c-38.196 0-69.271 31.075-69.271 69.271 0 38.195 31.075 69.270 69.271 69.270s69.271-31.075 69.271-69.271-31.075-69.270-69.271-69.270z"/></svg>
<svg class="a" style="left:1525.875px;top:748.7px" width="13.65" height="15.6" viewBox="0 0 448 512"><path fill="#8898aa" d="M416 208H272V64c0-17.670-14.330-32-32-32h-32c-17.670 0-32 14.330-32 32v144H32c-17.670 0-32 14.330-32 32v32c0 17.670 14.330 32 32 32h144v144c0 17.670 14.330 32 32 32h32c17.670 0 32-14.330 32-32V304h144c17.670 0 32-14.330 32-32v-32c0-17.670-14.330-32-32-32z"/></svg>
<svg class="a" style="left:1539.5px;top:853.5px" width="6" height="18" viewBox="-3 -9 6 18"><circle cx="0" cy="-4.75" r="1.9" fill="#8090a7"/><circle cx="0" cy="0" r="1.9" fill="#8090a7"/><circle cx="0" cy="4.75" r="1.9" fill="#8090a7"/></svg>
<svg class="a" style="left:1539.5px;top:897.4px" width="6" height="18" viewBox="-3 -9 6 18"><circle cx="0" cy="-4.75" r="1.9" fill="#8090a7"/><circle cx="0" cy="0" r="1.9" fill="#8090a7"/><circle cx="0" cy="4.75" r="1.9" fill="#8090a7"/></svg>
<div class="a" style="left:1535px;top:906px;width:53px;height:53px;border-radius:50%;background:#8898aa;box-shadow:0 4px 10px rgba(50,50,93,.15)"></div>
<svg class="a" style="left:1551.500px;top:922.400px" width="20" height="20" viewBox="-10 -10 20 20"><circle r="8.700" fill="#fff"/><text x="0" y="5.500" text-anchor="middle" font-family='"Liberation Sans", sans-serif' font-weight="700" font-size="15" fill="#8898aa">?</text></svg>
<div class="t" id="n1" style="left:37px;top:33px;font-size:15.5px;line-height:21px;font-weight:700;color:#212529;letter-spacing:0.777px;">Dataset</div>
<div class="t" id="n2" style="left:130.5px;top:33px;font-size:15.5px;line-height:21px;font-weight:700;color:#fff;letter-spacing:0.789px;">Data explorer</div>
<div class="t" id="n3" style="left:271.5px;top:33px;font-size:15.5px;line-height:21px;font-weight:700;color:#fff;letter-spacing:0.524px;">Data sources</div>
<div class="t" id="n4" style="left:435.5px;top:33px;font-size:15.5px;line-height:21px;font-weight:700;color:#fff;letter-spacing:0.013px;">CSV Wizard</div>
<div class="t" id="s1" style="left:54.95px;top:108px;font-size:14px;line-height:20px;font-weight:400;color:#8898aa;letter-spacing:-0.197px;-webkit-text-stroke:.3px #8898aa;">DATA COLLECTED</div>
<div class="t" id="s2" style="left:55.6px;top:131px;font-size:22px;line-height:31px;font-weight:400;color:#32325d;letter-spacing:0.46px;-webkit-text-stroke:0.79px #32325d;">12h 4m 16s</div>
<div class="t" id="s3" style="left:450.2px;top:108px;font-size:14px;line-height:20px;font-weight:400;color:#8898aa;letter-spacing:-0.305px;-webkit-text-stroke:.3px #8898aa;">TRAIN / TEST SPLIT</div>
<div class="t" id="s4" style="left:449.5px;top:131px;font-size:22px;line-height:31px;font-weight:400;color:#32325d;letter-spacing:0.333px;-webkit-text-stroke:0.79px #32325d;">78% / 22%</div>
<div class="t" id="d1" style="left:55.2px;top:224px;font-size:18.5px;line-height:25px;font-weight:400;color:#32325d;letter-spacing:1.064px;-webkit-text-stroke:0.67px #32325d;">Dataset</div>
<div class="t" id="d2" style="left:55.1px;top:295px;font-size:15px;line-height:21px;font-weight:400;color:#32325d;letter-spacing:1.101px;-webkit-text-stroke:0.54px #32325d;">Training</div>
<div class="t" id="d3" style="left:123.6px;top:298px;font-size:11px;line-height:16px;font-weight:400;color:#32325d;letter-spacing:-0.24px;-webkit-text-stroke:.3px #32325d;">(7)</div>
<div class="t" id="d4" style="left:169.5px;top:295px;font-size:15px;line-height:21px;font-weight:400;color:#8898aa;letter-spacing:0.719px;-webkit-text-stroke:.3px #8898aa;">Test</div>
<div class="t" id="d5" style="left:207.6px;top:298px;font-size:11px;line-height:16px;font-weight:400;color:#8898aa;letter-spacing:0.11px;-webkit-text-stroke:.3px #8898aa;">(2)</div>
<div class="t" id="h1" style="left:58.5px;top:346px;font-size:11px;line-height:16px;font-weight:400;color:#8898aa;letter-spacing:1.297px;-webkit-text-stroke:0.4px #8898aa;">SAMPLE NAME</div>
<div class="t" id="h2" style="left:275.5px;top:346px;font-size:11px;line-height:16px;font-weight:400;color:#8898aa;letter-spacing:1.093px;-webkit-text-stroke:0.4px #8898aa;">LABEL</div>
<div class="t" id="h3" style="left:434.2px;top:346px;font-size:11px;line-height:16px;font-weight:400;color:#8898aa;letter-spacing:1.235px;-webkit-text-stroke:0.4px #8898aa;">ADDED</div>
<div class="t" id="h4" style="left:593px;top:346px;font-size:11px;line-height:16px;font-weight:400;color:#8898aa;letter-spacing:1.165px;-webkit-text-stroke:0.4px #8898aa;">LENGTH</div>
<div class="t" id="r0a" style="left:58.5px;top:389px;font-size:15px;line-height:21px;font-weight:400;color:#525f7f;letter-spacing:0.506px;-webkit-text-stroke:0.54px #525f7f;">AMS_002_combined</div>
<div class="t" id="r0b" style="left:275.6px;top:389px;font-size:14.5px;line-height:20px;font-weight:400;color:#525f7f;letter-spacing:0.327px;-webkit-text-stroke:.3px #525f7f;">other, walking, run...</div>
<div class="t" id="r0c" style="left:434px;top:389px;font-size:14.5px;line-height:20px;font-weight:400;color:#525f7f;letter-spacing:0.019px;-webkit-text-stroke:.3px #525f7f;">Nov 16 2023, 17:14...</div>
<div class="t" id="r0d" style="left:592.5px;top:389px;font-size:14.5px;line-height:20px;font-weight:400;color:#525f7f;letter-spacing:0.275px;-webkit-text-stroke:.3px #525f7f;">1h 22m 32s</div>
<div class="t" id="r1a" style="left:58.5px;top:443px;font-size:15px;line-height:21px;font-weight:400;color:#525f7f;letter-spacing:0.506px;-webkit-text-stroke:0.54px #525f7f;">AMS_010_combined</div>
<div class="t" id="r1b" style="left:275.6px;top:443px;font-size:14.5px;line-height:20px;font-weight:400;color:#525f7f;letter-spacing:0.327px;-webkit-text-stroke:.3px #525f7f;">other, walking, run...</div>
<div class="t" id="r1c" style="left:434px;top:443px;font-size:14.5px;line-height:20px;font-weight:400;color:#525f7f;letter-spacing:0.019px;-webkit-text-stroke:.3px #525f7f;">Nov 16 2023, 17:00...</div>
<div class="t" id="r1d" style="left:592.5px;top:443px;font-size:14.5px;line-height:20px;font-weight:400;color:#525f7f;letter-spacing:0.275px;-webkit-text-stroke:.3px #525f7f;">1h 20m 29s</div>
<div class="t" id="r2a" style="left:58.5px;top:497px;font-size:15px;line-height:21px;font-weight:400;color:#525f7f;letter-spacing:0.506px;-webkit-text-stroke:0.54px #525f7f;">AMS_009_combined</div>
<div class="t" id="r2b" style="left:275.6px;top:498px;font-size:14.5px;line-height:20px;font-weight:400;color:#525f7f;letter-spacing:0.327px;-webkit-text-stroke:.3px #525f7f;">other, walking, run...</div>
<div class="t" id="r2c" style="left:434px;top:498px;font-size:14.5px;line-height:20px;font-weight:400;color:#525f7f;letter-spacing:0.019px;-webkit-text-stroke:.3px #525f7f;">Nov 16 2023, 17:00...</div>
<div class="t" id="r2d" style="left:592.5px;top:498px;font-size:14.5px;line-height:20px;font-weight:400;color:#525f7f;letter-spacing:0.275px;-webkit-text-stroke:.3px #525f7f;">1h 21m 35s</div>
<div class="t" id="r3a" style="left:58.5px;top:551px;font-size:15px;line-height:21px;font-weight:400;color:#525f7f;letter-spacing:0.506px;-webkit-text-stroke:0.54px #525f7f;">AMS_008_combined</div>
<div class="t" id="r3b" style="left:275.6px;top:552px;font-size:14.5px;line-height:20px;font-weight:400;color:#525f7f;letter-spacing:0.327px;-webkit-text-stroke:.3px #525f7f;">other, walking, run...</div>
<div class="t" id="r3c" style="left:434px;top:552px;font-size:14.5px;line-height:20px;font-weight:400;color:#525f7f;letter-spacing:0.019px;-webkit-text-stroke:.3px #525f7f;">Nov 16 2023, 17:00...</div>
<div class="t" id="r3d" style="left:592.5px;top:552px;font-size:14.5px;line-height:20px;font-weight:400;color:#525f7f;letter-spacing:0.318px;-webkit-text-stroke:.3px #525f7f;">1h 19m 3s</div>
<div class="t" id="r4a" style="left:58.5px;top:606px;font-size:15px;line-height:21px;font-weight:400;color:#525f7f;letter-spacing:0.506px;-webkit-text-stroke:0.54px #525f7f;">AMS_004_combined</div>
<div class="t" id="r4b" style="left:275.6px;top:606px;font-size:14.5px;line-height:20px;font-weight:400;color:#525f7f;letter-spacing:0.327px;-webkit-text-stroke:.3px #525f7f;">other, walking, run...</div>
<div class="t" id="r4c" style="left:434px;top:606px;font-size:14.5px;line-height:20px;font-weight:400;color:#525f7f;letter-spacing:0.019px;-webkit-text-stroke:.3px #525f7f;">Nov 16 2023, 16:59...</div>
<div class="t" id="r4d" style="left:592.5px;top:606px;font-size:14.5px;line-height:20px;font-weight:400;color:#525f7f;letter-spacing:0.275px;-webkit-text-stroke:.3px #525f7f;">1h 22m 57s</div>
<div class="t" id="r5a" style="left:58.5px;top:660px;font-size:15px;line-height:21px;font-weight:400;color:#525f7f;letter-spacing:0.506px;-webkit-text-stroke:0.54px #525f7f;">AMS_003_combined</div>
<div class="t" id="r5b" style="left:275.6px;top:660px;font-size:14.5px;line-height:20px;font-weight:400;color:#525f7f;letter-spacing:0.327px;-webkit-text-stroke:.3px #525f7f;">other, walking, run...</div>
<div class="t" id="r5c" style="left:434px;top:660px;font-size:14.5px;line-height:20px;font-weight:400;color:#525f7f;letter-spacing:0.019px;-webkit-text-stroke:.3px #525f7f;">Nov 16 2023, 16:59...</div>
<div class="t" id="r5d" style="left:592.5px;top:660px;font-size:14.5px;line-height:20px;font-weight:400;color:#525f7f;letter-spacing:0.275px;-webkit-text-stroke:.3px #525f7f;">1h 18m 32s</div>
<div class="t" id="r6a" style="left:58.5px;top:714px;font-size:15px;line-height:21px;font-weight:400;color:#525f7f;letter-spacing:0.506px;-webkit-text-stroke:0.54px #525f7f;">AMS_001_combined</div>
<div class="t" id="r6b" style="left:275.6px;top:715px;font-size:14.5px;line-height:20px;font-weight:400;color:#525f7f;letter-spacing:0.327px;-webkit-text-stroke:.3px #525f7f;">other, walking, run...</div>
<div class="t" id="r6c" style="left:434px;top:715px;font-size:14.5px;line-height:20px;font-weight:400;color:#525f7f;letter-spacing:0.019px;-webkit-text-stroke:.3px #525f7f;">Nov 16 2023, 16:59...</div>
<div class="t" id="r6d" style="left:592.5px;top:715px;font-size:14.5px;line-height:20px;font-weight:400;color:#525f7f;letter-spacing:0.275px;-webkit-text-stroke:.3px #525f7f;">1h 18m 37s</div>
<div class="t" id="p1" style="left:681.9px;top:788px;font-size:15px;line-height:21px;font-weight:400;color:#fff;letter-spacing:0px;-webkit-text-stroke:.3px #fff;">1</div>
<div class="t" id="c1" style="left:844.75px;top:112px;font-size:18.5px;line-height:25px;font-weight:400;color:#32325d;letter-spacing:0.654px;-webkit-text-stroke:0.67px #32325d;">Collect data</div>
<div class="t" id="c2" style="left:873.1px;top:192px;font-size:15px;line-height:21px;font-weight:400;color:#5e72e4;letter-spacing:0.389px;-webkit-text-stroke:.3px #5e72e4;text-decoration:underline;text-underline-offset:1px;text-decoration-thickness:1px">Connect a device</div>
<div class="t" id="c3" style="left:999.75px;top:192px;font-size:15px;line-height:21px;font-weight:400;color:#525f7f;letter-spacing:0.685px;-webkit-text-stroke:.3px #525f7f;">to start building your dataset.</div>
<div class="t" id="w1" style="left:844.7px;top:283px;font-size:11px;line-height:16px;font-weight:400;color:#d6dbe4;letter-spacing:1.046px;-webkit-text-stroke:0.4px #d6dbe4;">RAW DATA</div>
<div class="t" id="w2" style="left:844.25px;top:306px;font-size:21.5px;line-height:30px;font-weight:400;color:#fff;letter-spacing:0.691px;-webkit-text-stroke:0.77px #fff;">AMS_004_combined</div>
<div class="t" id="m1" style="left:843.8px;top:742px;font-size:18.5px;line-height:25px;font-weight:400;color:#32325d;letter-spacing:1.308px;-webkit-text-stroke:0.67px #32325d;">Metadata</div>
<div class="t" id="m2" style="left:844.8px;top:811px;font-size:11px;line-height:16px;font-weight:400;color:#8898aa;letter-spacing:-0.387px;-webkit-text-stroke:0.4px #8898aa;">KEY</div>
<div class="t" id="m3" style="left:1175.8px;top:811px;font-size:11px;line-height:16px;font-weight:400;color:#8898aa;letter-spacing:1.52px;-webkit-text-stroke:0.4px #8898aa;">VALUE</div>
<div class="t" id="m4" style="left:844.8px;top:853px;font-size:14.5px;line-height:20px;font-weight:400;color:#525f7f;letter-spacing:0.608px;-webkit-text-stroke:.3px #525f7f;">imported_from</div>
<div class="t" id="m5" style="left:1175.6px;top:853px;font-size:14.5px;line-height:20px;font-weight:400;color:#525f7f;letter-spacing:0.335px;-webkit-text-stroke:.3px #525f7f;">s3://edge-impulse-health-reference-design/stud...</div>
<div class="t" id="m6" style="left:844.8px;top:896px;font-size:14.5px;line-height:20px;font-weight:400;color:#525f7f;letter-spacing:0.264px;-webkit-text-stroke:.3px #525f7f;">subject</div>
<div class="t" id="m7" style="left:1175.3px;top:896px;font-size:14.5px;line-height:20px;font-weight:400;color:#525f7f;letter-spacing:-0.352px;-webkit-text-stroke:.3px #525f7f;">AMS_004</div>
</body></html>
